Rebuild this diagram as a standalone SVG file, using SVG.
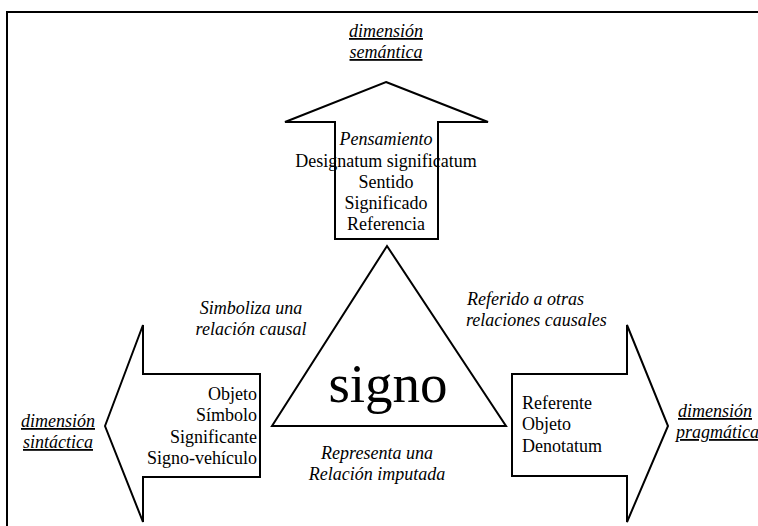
<svg xmlns="http://www.w3.org/2000/svg" width="758" height="526" viewBox="0 0 758 526">
<style>
.shape{fill:#fff;stroke:#000;stroke-width:2;stroke-linejoin:miter}
text{font-family:"Liberation Serif","Times New Roman",serif;font-size:18px;fill:#000}
.it{font-style:italic}
.u{font-style:italic;text-decoration:underline}
.c{text-anchor:middle}
.r{text-anchor:end}
</style>
<rect width="758" height="526" fill="#fff"/>
<g id="frame">
<polyline points="7,526 7,12 758,12" fill="none" stroke="#000" stroke-width="2"/>
</g>
<g id="semantica">
<polygon class="shape" points="386,82 488,122 438,122 438,239 335,239 335,122 285,122"/>
<text class="it c" x="386" y="145">Pensamiento</text>
<text class="c" x="386" y="167">Designatum significatum</text>
<text class="c" x="386" y="188">Sentido</text>
<text class="c" x="386" y="209">Significado</text>
<text class="c" x="386" y="230">Referencia</text>
<text class="u c" x="386" y="37">dimensión</text>
<text class="u c" x="386" y="58">semántica</text>
</g>
<g id="signo">
<polygon class="shape" points="387,246 506,426 272,426"/>
<text class="c" x="388" y="402" style="font-size:55px">signo</text>
</g>
<g id="sintactica">
<polygon class="shape" points="105,426 143,325 143,374 260,374 260,477 143,477 143,522"/>
<text class="r" x="257" y="400">Objeto</text>
<text class="r" x="257" y="421">Símbolo</text>
<text class="r" x="257" y="443">Significante</text>
<text class="r" x="257" y="464">Signo-vehículo</text>
<text class="u c" x="58" y="427">dimensión</text>
<text class="u c" x="58" y="448">sintáctica</text>
</g>
<g id="pragmatica">
<polygon class="shape" points="512,374 627,374 627,325 668,426 627,522 627,476 512,476"/>
<text x="522" y="409">Referente</text>
<text x="522" y="430">Objeto</text>
<text x="522" y="452">Denotatum</text>
<text class="u" x="678" y="417">dimensión</text>
<text class="u" x="676" y="438">pragmática</text>
</g>
<g id="labels">
<text class="it c" x="251" y="314">Simboliza una</text>
<text class="it c" x="251" y="335">relación causal</text>
<text class="it" x="467" y="305">Referido a otras</text>
<text class="it" x="466" y="326">relaciones causales</text>
<text class="it c" x="377" y="459">Representa una</text>
<text class="it c" x="377" y="480">Relación imputada</text>
</g>
</svg>
